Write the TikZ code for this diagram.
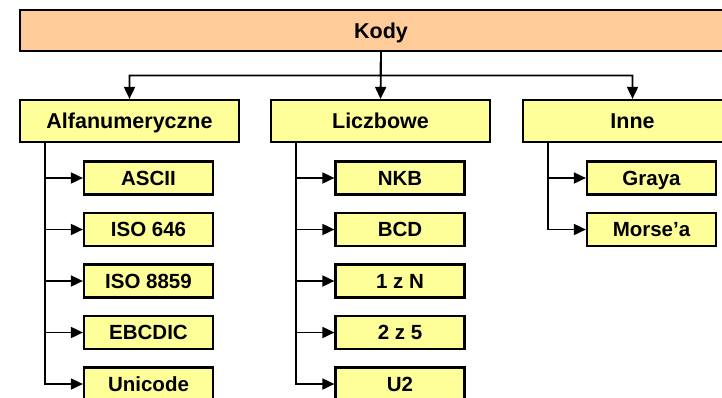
\documentclass[tikz,border=0pt]{standalone}
\usepackage{fontspec}
\setmainfont{Liberation Sans}
\usetikzlibrary{arrows.meta,calc}
\definecolor{kodyfill}{HTML}{FFCC99}
\definecolor{boxfill}{HTML}{FFFF99}
\begin{document}
\begin{tikzpicture}[x=1pt,y=-1pt,
  base/.style={draw=black,line width=2.2pt,inner sep=0pt,text depth=0pt},
  topbox/.style={base,fill=kodyfill,minimum width=722pt,minimum height=41pt,text height=15.4pt,font=\fontsize{21.5}{25}\selectfont\bfseries},
  parbox/.style={base,fill=boxfill,minimum width=219pt,minimum height=42pt,text height=15.4pt,font=\fontsize{21.5}{25}\selectfont\bfseries},
  chbox/.style={base,fill=boxfill,minimum width=129pt,minimum height=33pt,text height=14.7pt,font=\fontsize{20.5}{24}\selectfont\bfseries},
  arr/.style={draw=black,line width=1.8pt,-{Triangle[length=12pt,width=11pt]}}]
\useasboundingbox (0,0) rectangle (722,397);
\node[topbox] (kody) at (381,30.5) {Kody};
\node[parbox] (alfa) at (129.5,121) {Alfanumeryczne};
\node[parbox] (lic) at (380.5,121) {Liczbowe};
\node[parbox] (inne) at (632.5,121) {Inne};
\draw[arr] (kody.south) -- (lic.north);
\draw[arr] (kody.south) -- ($(kody.south)!0.5!(lic.north)$) -| (alfa.north);
\draw[arr] (kody.south) -- ($(kody.south)!0.5!(lic.north)$) -| (inne.north);
% Alfanumeryczne children
\node[chbox] (ascii) at (148.5,178) {ASCII};
\node[chbox] (iso646) at (148.5,229.5) {ISO 646};
\node[chbox] (iso8859) at (148.5,281) {ISO 8859};
\node[chbox] (ebcdic) at (148.5,332.5) {EBCDIC};
\node[chbox] (unicode) at (148.5,384) {Unicode};
\coordinate (ta) at ($(alfa.south west)+(26,0)$);
\foreach \c in {ascii,iso646,iso8859,ebcdic,unicode}{\draw[arr] (ta) |- (\c.west);}
% Liczbowe children
\node[chbox] (nkb) at (400,178) {NKB};
\node[chbox] (bcd) at (400,229.5) {BCD};
\node[chbox] (jzn) at (400,281) {1 z N};
\node[chbox] (dz5) at (400,332.5) {2 z 5};
\node[chbox] (u2) at (400,384) {U2};
\coordinate (tl) at ($(lic.south west)+(26,0)$);
\foreach \c in {nkb,bcd,jzn,dz5,u2}{\draw[arr] (tl) |- (\c.west);}
% Inne children
\node[chbox] (graya) at (651.5,178) {Graya};
\node[chbox] (morse) at (651.5,229.5) {Morse’a};
\coordinate (ti) at ($(inne.south west)+(26,0)$);
\foreach \c in {graya,morse}{\draw[arr] (ti) |- (\c.west);}
\end{tikzpicture}
\end{document}
